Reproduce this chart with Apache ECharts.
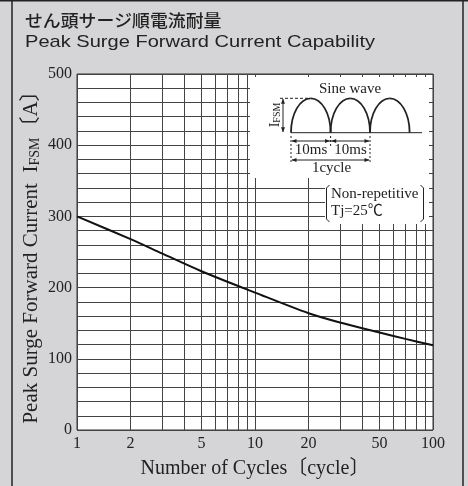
<!DOCTYPE html>
<html>
<head>
<meta charset="utf-8">
<script src="https://cdn.jsdelivr.net/npm/echarts@6/dist/echarts.min.js"></script>
<style>
  html, body { margin: 0; padding: 0; background: #d5d5d7; }
  #chart { width: 468px; height: 486px; }
</style>
</head>
<body>
<div id="chart"></div>
<script>
// number of cycles vs peak surge current
const cycles = [1, 2, 3, 5, 10, 20, 30, 50, 70, 100];
const ifsm = [300, 268, 248, 223, 193, 164, 151, 137, 128, 119];

// vertical grid lines of the log axis and the ones that carry a label
const xGrid = [1, 2, 3, 4, 5, 6, 7, 8, 9, 10, 20, 30, 40, 50, 60, 70, 80, 90, 100];
const xLabels = [1, 2, 5, 10, 20, 50, 100];

const serif = "'Liberation Serif', 'Noto Sans CJK JP', serif";
const ink = "#222";

// small filled arrow head, tip at (x, y), dir = 'l' | 'r' | 'u' | 'd'
function arrowHead(x, y, dir) {
  const l = 5, w = 2;
  let pts;
  if (dir === "l") pts = [[x, y], [x + l, y - w], [x + l, y + w]];
  if (dir === "r") pts = [[x, y], [x - l, y - w], [x - l, y + w]];
  if (dir === "u") pts = [[x, y], [x - w, y + l], [x + w, y + l]];
  if (dir === "d") pts = [[x, y], [x - w, y - l], [x + w, y - l]];
  return { type: "polygon", z: 101, shape: { points: pts }, style: { fill: ink } };
}
function seg(x1, y1, x2, y2, dash, width) {
  return {
    type: "line", z: 101,
    shape: { x1: x1, y1: y1, x2: x2, y2: y2 },
    style: { stroke: ink, lineWidth: width || 1, lineDash: dash || null }
  };
}
function txt(x, y, text, size, align, extra) {
  return Object.assign({
    type: "text", z: 101, x: x, y: y,
    style: { text: text, fontFamily: serif, fontSize: size, fill: ink, align: align || "center", verticalAlign: "middle" }
  }, extra || {});
}

// half sine wave arch drawn as a semi ellipse (two bezier quarters)
function arch(x0, base, rx, ry) {
  const k = 0.5523;
  const st = { stroke: ink, lineWidth: 1.8, fill: null };
  return [
    { type: "bezierCurve", z: 101, style: st,
      shape: { x1: x0, y1: base, cpx1: x0, cpy1: base - k * ry, cpx2: x0 + rx - k * rx, cpy2: base - ry, x2: x0 + rx, y2: base - ry } },
    { type: "bezierCurve", z: 101, style: st,
      shape: { x1: x0 + rx, y1: base - ry, cpx1: x0 + rx + k * rx, cpy1: base - ry, cpx2: x0 + 2 * rx, cpy2: base - k * ry, x2: x0 + 2 * rx, y2: base } }
  ];
}

const inset = [
  // white panels over the grid
  { type: "rect", z: 100, shape: { x: 250, y: 77, width: 179, height: 101 }, style: { fill: "#fff" } },
  { type: "rect", z: 100, shape: { x: 325, y: 178, width: 104, height: 46 }, style: { fill: "#fff" } },
  txt(350, 89, "Sine wave", 15),
  seg(291, 132.7, 422, 132.7)
].concat(
  arch(291, 132.7, 19.8, 34.4),
  arch(330.6, 132.7, 19.7, 34.4),
  arch(370, 132.7, 19.8, 34.4),
  [
    // IFSM dimension
    seg(280, 98.3, 310, 98.3, [3, 2]),
    seg(283, 99, 283, 132),
    arrowHead(283, 98.8, "u"),
    arrowHead(283, 132.2, "d"),
    {
      type: "text", z: 101, x: 275, y: 115, rotation: Math.PI / 2,
      style: {
        text: "{a|I}{b|FSM}", fill: ink, align: "center", verticalAlign: "middle",
        rich: {
          a: { fontFamily: serif, fontSize: 14, fill: ink, verticalAlign: "bottom" },
          b: { fontFamily: serif, fontSize: 10, fill: ink, verticalAlign: "bottom" }
        }
      }
    },
    // 10ms / 1cycle dimensions
    seg(291, 136, 291, 162, [2, 2]),
    seg(330.6, 136, 330.6, 146, [2, 2]),
    seg(370, 136, 370, 162, [2, 2]),
    seg(292, 141, 330, 141),
    seg(331, 141, 369, 141),
    arrowHead(291.5, 141, "l"), arrowHead(330, 141, "r"),
    arrowHead(331.2, 141, "l"), arrowHead(369.5, 141, "r"),
    txt(311, 150, "10ms", 15),
    txt(350.5, 150, "10ms", 15),
    seg(292, 160, 369, 160),
    arrowHead(291.5, 160, "l"), arrowHead(369.5, 160, "r"),
    txt(331.5, 168, "1cycle", 15),
    // conditions in brackets
    { type: "polyline", z: 101, shape: { points: [[329.5, 185], [326.5, 188], [326.5, 219], [329.5, 222]] }, style: { stroke: ink, lineWidth: 1, fill: null } },
    { type: "polyline", z: 101, shape: { points: [[420.5, 185], [423.5, 188], [423.5, 219], [420.5, 222]] }, style: { stroke: ink, lineWidth: 1, fill: null } },
    txt(331, 194, "Non-repetitive", 15, "left"),
    txt(331, 211.5, "Tj=25℃", 15, "left")
  ]
);

const frame = [
  { type: "line", shape: { x1: 12, y1: 0, x2: 12, y2: 486 }, style: { stroke: "#222", lineWidth: 1.5 } },
  { type: "line", shape: { x1: 463, y1: 0, x2: 463, y2: 486 }, style: { stroke: "#222", lineWidth: 1.5 } },
  { type: "line", shape: { x1: 0, y1: 0.75, x2: 468, y2: 0.75 }, style: { stroke: "#222", lineWidth: 1.5 } },
  {
    type: "text", x: 25, y: 21, scaleX: 1.05,
    style: { text: "せん頭サージ順電流耐量", fontFamily: "'Noto Sans CJK JP'", fontSize: 17, fontWeight: 500, fill: ink, align: "left", verticalAlign: "middle" }
  },
  {
    type: "text", x: 25, y: 42, scaleX: 1.18,
    style: { text: "Peak Surge Forward Current Capability", fontFamily: "'Liberation Sans', Arial, sans-serif", fontSize: 17, fill: ink, align: "left", verticalAlign: "middle" }
  }
];

const chart = echarts.init(document.getElementById("chart"));
chart.setOption({
  animation: false,
  backgroundColor: "#d5d5d7",
  grid: {
    left: 77, right: 35, top: 74, bottom: 56,
    show: true, backgroundColor: "#fff", borderColor: "#333", borderWidth: 1
  },
  xAxis: {
    type: "log",
    logBase: 10,
    min: 1,
    max: 100,
    axisLine: { show: false },
    axisTick: { show: false },
    axisLabel: { show: false },
    splitLine: { show: false },
    name: "Number of Cycles〔cycle〕",
    nameLocation: "middle",
    nameGap: 29,
    nameTextStyle: { fontFamily: serif, fontSize: 20, color: ink }
  },
  yAxis: {
    type: "value",
    min: 0,
    max: 500,
    interval: 100,
    axisLine: { show: false },
    axisTick: { show: false },
    axisLabel: { fontFamily: serif, fontSize: 16, color: ink, margin: 5 },
    splitLine: { lineStyle: { color: "#444", width: 1 } },
    minorTick: { show: false, splitNumber: 5 },
    minorSplitLine: { show: true, lineStyle: { color: "#444", width: 1 } },
    name: "{n|Peak Surge Forward Current  I}{s|FSM}{n|〔A〕}",
    nameLocation: "middle",
    nameGap: 35,
    nameMoveOverlap: false,
    nameTextStyle: {
      rich: {
        n: { fontFamily: serif, fontSize: 21, color: ink, verticalAlign: "bottom" },
        s: { fontFamily: serif, fontSize: 14, color: ink, verticalAlign: "bottom" }
      }
    }
  },
  graphic: frame.concat(inset),
  series: [
    {
      type: "line",
      data: cycles.map((c, i) => [c, ifsm[i]]),
      smooth: 0.3,
      symbol: "none",
      lineStyle: { color: "#111", width: 2 },
      z: 5,
      markLine: {
        silent: true,
        symbol: ["none", "none"],
        animation: false,
        lineStyle: { color: "#444", width: 1, type: "solid" },
        emphasis: { disabled: true },
        data: xGrid.map(v => ({
          xAxis: v,
          label: {
            show: xLabels.indexOf(v) >= 0,
            position: "start",
            distance: 6,
            formatter: String(v),
            fontFamily: serif,
            fontSize: 16,
            color: ink
          }
        }))
      }
    }
  ]
});
</script>
</body>
</html>
